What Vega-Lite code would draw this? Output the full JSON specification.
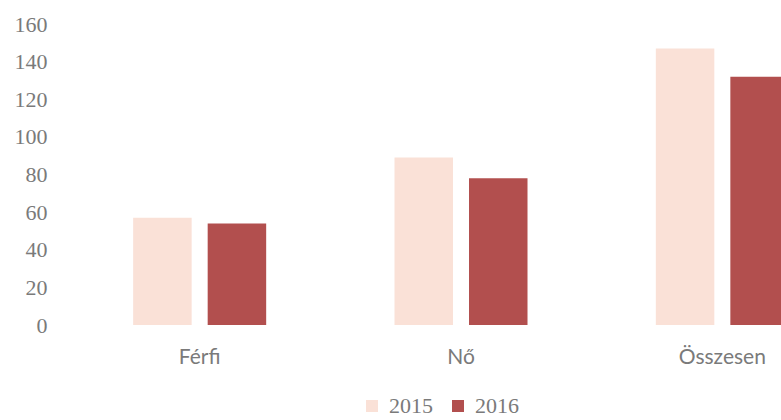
{
  "$schema": "https://vega.github.io/schema/vega-lite/v6.json",
  "autosize": {"type": "none"},
  "width": 784,
  "height": 301,
  "padding": {"left": 69, "top": 24, "right": -72, "bottom": 95},
  "background": "white",
  "data": {
    "values": [
      {"category": "Férfi", "year": "2015", "value": 57},
      {"category": "Férfi", "year": "2016", "value": 54},
      {"category": "Nő", "year": "2015", "value": 89},
      {"category": "Nő", "year": "2016", "value": 78},
      {"category": "Összesen", "year": "2015", "value": 147},
      {"category": "Összesen", "year": "2016", "value": 132}
    ]
  },
  "mark": {"type": "bar"},
  "encoding": {
    "x": {
      "field": "category",
      "type": "nominal",
      "sort": ["Férfi", "Nő", "Összesen"],
      "scale": {"paddingInner": 0.491, "paddingOuter": 0.2455},
      "axis": {
        "title": null,
        "labelAngle": 0,
        "domain": false,
        "ticks": false,
        "tickSize": 0,
        "labelFont": "Lato",
        "labelFontSize": 21,
        "labelColor": "#7a7a7a",
        "labelBaseline": "alphabetic",
        "labelPadding": 38
      }
    },
    "xOffset": {
      "field": "year",
      "type": "nominal",
      "scale": {"paddingInner": 0.215, "paddingOuter": 0}
    },
    "y": {
      "field": "value",
      "type": "quantitative",
      "scale": {"domain": [0, 160], "nice": false},
      "axis": {
        "title": null,
        "values": [0, 20, 40, 60, 80, 100, 120, 140, 160],
        "grid": false,
        "domain": false,
        "ticks": false,
        "tickSize": 0,
        "labelFont": "Liberation Serif",
        "labelFontSize": 22,
        "labelColor": "#7a7a7a",
        "labelPadding": 22
      }
    },
    "color": {
      "field": "year",
      "type": "nominal",
      "scale": {"domain": ["2015", "2016"], "range": ["#fae1d7", "#b24f4e"]},
      "legend": {
        "title": null,
        "orient": "none",
        "legendX": 292,
        "legendY": 371,
        "direction": "horizontal",
        "symbolType": "square",
        "symbolSize": 144,
        "symbolStrokeWidth": 0,
        "labelFont": "Liberation Serif",
        "labelFontSize": 22,
        "labelColor": "#7a7a7a",
        "labelOffset": 6,
        "columnPadding": 14,
        "padding": 0
      }
    }
  },
  "config": {"view": {"stroke": null}}
}
